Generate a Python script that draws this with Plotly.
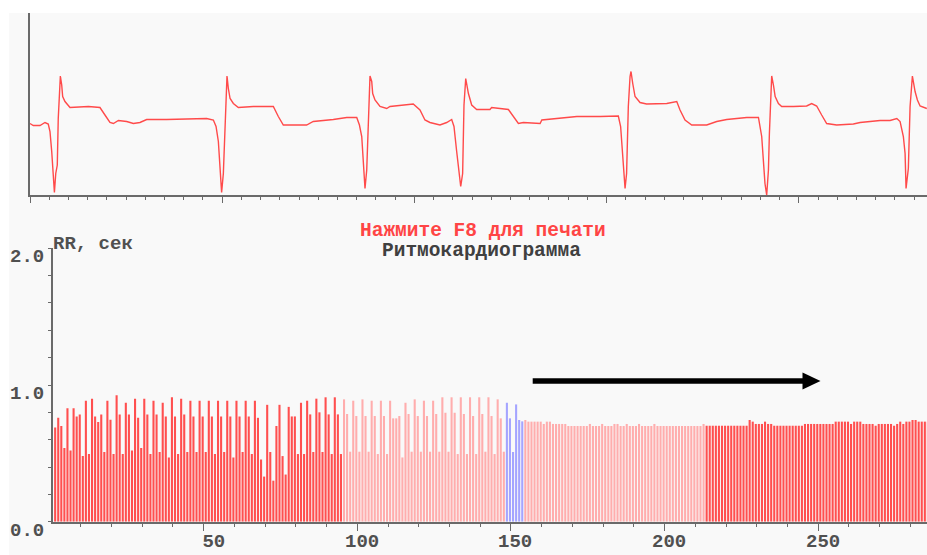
import plotly.graph_objects as go

W, H = 927, 555

# ---------------- ECG strip (time, s ; amplitude, mV) ----------------
ecg_t = [0.000, 0.017, 0.052, 0.078, 0.095, 0.104, 0.113, 0.121, 0.127, 0.134, 0.142, 0.147,
         0.153, 0.158, 0.165, 0.170, 0.182, 0.208, 0.304, 0.364, 0.390, 0.416, 0.434, 0.460,
         0.503, 0.538, 0.572, 0.607, 0.711, 0.919, 0.954, 0.968, 0.980, 0.989, 0.997, 1.006,
         1.015, 1.020, 1.025, 1.032, 1.041, 1.058, 1.084, 1.162, 1.266, 1.292, 1.318, 1.439,
         1.474, 1.578, 1.648, 1.700, 1.714, 1.726, 1.734, 1.743, 1.752, 1.759, 1.764, 1.769,
         1.778, 1.783, 1.795, 1.821, 1.856, 1.873, 1.994, 2.029, 2.055, 2.081, 2.133, 2.168,
         2.194, 2.206, 2.220, 2.234, 2.241, 2.251, 2.258, 2.267, 2.281, 2.298, 2.324, 2.393,
         2.402, 2.489, 2.524, 2.541, 2.567, 2.654, 2.663, 2.758, 2.845, 2.966, 3.061, 3.073,
         3.084, 3.091, 3.096, 3.104, 3.113, 3.122, 3.127, 3.136, 3.148, 3.174, 3.208, 3.313,
         3.365, 3.382, 3.408, 3.443, 3.521, 3.573, 3.625, 3.729, 3.790, 3.807, 3.816, 3.824,
         3.833, 3.842, 3.847, 3.854, 3.859, 3.868, 3.877, 3.894, 3.911, 3.972, 4.041, 4.067,
         4.093, 4.119, 4.145, 4.197, 4.284, 4.319, 4.423, 4.475, 4.510, 4.527, 4.544, 4.553,
         4.558, 4.570, 4.579, 4.591, 4.605, 4.617, 4.631, 4.666]
ecg_mv = [0.03, -0.01, -0.01, 0.05, 0.02, -0.13, -0.53, -0.97, -1.35, -0.97, -0.80, 0.13,
          0.80, 0.98, 0.80, 0.57, 0.47, 0.35, 0.37, 0.35, 0.20, 0.05, 0.03, 0.09,
          0.07, 0.03, 0.05, 0.11, 0.11, 0.13, 0.10, -0.03, -0.33, -0.87, -1.35, -0.97,
          -0.03, 0.80, 0.98, 0.73, 0.53, 0.43, 0.35, 0.37, 0.37, 0.17, 0.00, 0.00,
          0.07, 0.11, 0.15, 0.15, 0.00, -0.23, -0.73, -1.27, -0.90, -0.17, 0.63, 0.98,
          0.87, 0.63, 0.50, 0.37, 0.33, 0.37, 0.42, 0.30, 0.10, 0.05, 0.00, 0.05,
          0.11, -0.03, -0.53, -1.03, -1.23, -0.97, 0.40, 0.93, 0.63, 0.40, 0.31, 0.31,
          0.35, 0.31, 0.11, 0.03, 0.05, 0.03, 0.10, 0.13, 0.17, 0.17, 0.18, -0.03,
          -0.57, -0.97, -1.27, -0.97, 0.37, 0.97, 1.07, 0.83, 0.57, 0.45, 0.42, 0.43,
          0.47, 0.30, 0.10, 0.00, 0.00, 0.07, 0.11, 0.15, 0.15, -0.23, -0.77, -1.17,
          -1.40, -0.90, -0.17, 0.63, 0.98, 0.80, 0.57, 0.43, 0.37, 0.37, 0.38, 0.43,
          0.38, 0.20, 0.03, 0.00, 0.02, 0.05, 0.09, 0.09, 0.13, 0.07, -0.23, -0.57,
          -1.27, -0.87, 0.37, 0.98, 0.67, 0.50, 0.38, 0.33]

# ---------------- Rhythmogram: RR interval (s) per beat ----------------
rr_values = [
    # beats 1-94
    0.69, 0.76, 0.70, 0.54, 0.83, 0.52, 0.83, 0.77, 0.785, 0.48,
    0.885, 0.495, 0.90, 0.77, 0.73, 0.785, 0.51, 0.885, 0.745, 0.495,
    0.925, 0.785, 0.495, 0.87, 0.785, 0.52, 0.90, 0.76, 0.54, 0.90,
    0.785, 0.495, 0.885, 0.785, 0.51, 0.87, 0.77, 0.47, 0.91, 0.77,
    0.495, 0.90, 0.785, 0.51, 0.885, 0.77, 0.51, 0.885, 0.77, 0.51,
    0.885, 0.77, 0.495, 0.885, 0.77, 0.51, 0.885, 0.77, 0.47, 0.885,
    0.77, 0.51, 0.885, 0.77, 0.495, 0.885, 0.76, 0.455, 0.33, 0.855,
    0.51, 0.30, 0.70, 0.855, 0.48, 0.345, 0.84, 0.77, 0.77, 0.495,
    0.87, 0.495, 0.885, 0.785, 0.51, 0.90, 0.80, 0.51, 0.91, 0.785,
    0.495, 0.91, 0.785, 0.495,
    # beats 95-147
    0.895, 0.788, 0.512, 0.885, 0.773, 0.512, 0.895, 0.773, 0.512, 0.885,
    0.773, 0.495, 0.885, 0.773, 0.495, 0.885, 0.756, 0.756, 0.773, 0.47,
    0.87, 0.788, 0.512, 0.895, 0.773, 0.512, 0.885, 0.773, 0.512, 0.885,
    0.788, 0.512, 0.91, 0.797, 0.512, 0.91, 0.797, 0.495, 0.91, 0.788,
    0.495, 0.91, 0.773, 0.495, 0.91, 0.788, 0.512, 0.91, 0.773, 0.495,
    0.895, 0.756, 0.512,
    # beats 148-153
    0.87, 0.756, 0.51, 0.858, 0.744, 0.734,
    # beats 154-212
    0.744, 0.732, 0.732, 0.732, 0.732, 0.732, 0.715, 0.732, 0.732, 0.715,
    0.715, 0.715, 0.715, 0.715, 0.70, 0.70, 0.70, 0.70, 0.70, 0.70,
    0.70, 0.715, 0.70, 0.70, 0.70, 0.715, 0.70, 0.70, 0.70, 0.715,
    0.715, 0.70, 0.70, 0.715, 0.70, 0.70, 0.70, 0.715, 0.70, 0.70,
    0.70, 0.70, 0.715, 0.70, 0.70, 0.70, 0.70, 0.70, 0.70, 0.70,
    0.70, 0.70, 0.70, 0.70, 0.70, 0.70, 0.70, 0.70, 0.715,
    # beats 213-285
    0.702, 0.702, 0.702, 0.702, 0.702, 0.702, 0.702, 0.702, 0.702, 0.702,
    0.702, 0.702, 0.702, 0.702, 0.744, 0.732, 0.715, 0.715, 0.715, 0.732,
    0.715, 0.715, 0.702, 0.702, 0.702, 0.702, 0.702, 0.702, 0.702, 0.702,
    0.702, 0.702, 0.715, 0.715, 0.715, 0.715, 0.715, 0.715, 0.715, 0.715,
    0.715, 0.715, 0.732, 0.732, 0.732, 0.732, 0.732, 0.715, 0.732, 0.732,
    0.732, 0.715, 0.715, 0.715, 0.715, 0.702, 0.715, 0.715, 0.715, 0.715,
    0.715, 0.702, 0.715, 0.732, 0.715, 0.732, 0.732, 0.744, 0.744, 0.732,
    0.732, 0.732, 0.732,
]
beat_no = list(range(1, len(rr_values) + 1))

# segments of the record: (first beat, last beat, group)
seg_first = [1, 95, 148, 154, 213]
seg_last = [94, 147, 153, 212, 285]
seg_group = ["main", "marked", "selected", "marked", "main"]

x_tick_vals = [50, 100, 150, 200, 250]
x_tick_text = ["\u00a050", "100", "150", "200", "250"]
y_tick_vals = [0.0, 1.0, 2.0]
y_tick_text = ["0.0", "1.0", "2.0"]

hint_text = "Нажмите F8 для печати"
title_text = "Ритмокардиограмма"
y_title_text = "RR, сек"

# ---------------- styles ----------------
group_color = {"main": "#ff4f4f", "marked": "#ffadad", "selected": "#a4a4ff"}
AX = "#6a6a6a"
TXT = "#505050"
FONT = "Liberation Mono, DejaVu Sans Mono, monospace"


def px(x):
    return x / W


def py(y):
    return 1 - y / H


fig = go.Figure()

fig.add_trace(go.Scatter(x=ecg_t, y=ecg_mv, mode="lines",
                         line=dict(color="#ff4a4a", width=1.4),
                         xaxis="x", yaxis="y", hoverinfo="skip", showlegend=False))

for a, b, g in zip(seg_first, seg_last, seg_group):
    xs = beat_no[a - 1:b]
    ys = rr_values[a - 1:b]
    fig.add_trace(go.Bar(x=xs, y=ys, width=0.68, offset=0.34,
                         marker=dict(color=group_color[g], line=dict(width=0)),
                         xaxis="x2", yaxis="y2", hoverinfo="skip", showlegend=False))

common = dict(showgrid=False, zeroline=False, showline=True, linecolor=AX, linewidth=2,
              tickcolor=AX, tickwidth=1, showticklabels=False, fixedrange=True)

layout = dict(
    width=W, height=H, margin=dict(l=0, r=0, t=0, b=0),
    paper_bgcolor="white", plot_bgcolor="rgba(0,0,0,0)",
    template="none", showlegend=False, bargap=0.2,
    xaxis=dict(domain=[px(30), 1], range=[0, (W - 30) / 192.2], anchor="y",
               ticks="outside", ticklen=6, dtick=1, tick0=0,
               minor=dict(dtick=0.1, ticks="outside", ticklen=3, tickcolor=AX, showgrid=False),
               **common),
    yaxis=dict(domain=[py(195), py(13)], range=[-1.40, 2.24], anchor="x",
               ticks="", **common),
    xaxis2=dict(domain=[px(52.7), 1], range=[0.88, (W - 50) / 3.073], anchor="y2",
                ticks="outside", ticklen=7, dtick=50, tick0=0,
                minor=dict(dtick=10, ticks="outside", ticklen=3, tickcolor=AX, showgrid=False),
                **common),
    yaxis2=dict(domain=[py(521.7), py(248.3)], range=[0, 2], anchor="x2",
                ticks="outside", ticklen=3, dtick=0.2, tick0=0, **common),
)
fig.update_layout(**layout)

# background panel
fig.add_shape(type="rect", xref="paper", yref="paper", x0=px(9), x1=1, y0=0, y1=py(13),
              fillcolor="#f9f9f9", line=dict(width=0), layer="below")

lbl_font = dict(family=FONT, size=19, color=TXT, weight="bold")
CAP = 4

ann = []
for v, t in zip(y_tick_vals, y_tick_text):
    ann.append(dict(x=px(46), xref="paper", xanchor="right", y=v, yref="y2", yanchor="top",
                    yshift=CAP, text=t, showarrow=False, font=lbl_font))
for v, t in zip(x_tick_vals, x_tick_text):
    ann.append(dict(x=v, xref="x2", xanchor="center", xshift=4.5, y=py(533), yref="paper",
                    yanchor="top", yshift=CAP, text=t, showarrow=False, font=lbl_font))
ann.append(dict(x=px(51), xref="paper", xanchor="left", y=py(235), yref="paper", yanchor="top",
                yshift=CAP, text=y_title_text, showarrow=False, font=lbl_font))
ann.append(dict(x=px(483), xref="paper", xanchor="center", y=py(222.5), yref="paper",
                yanchor="top", yshift=CAP + 1, text=hint_text, showarrow=False,
                font=dict(family=FONT, size=19.5, color="#ff4545", weight="bold")))
ann.append(dict(x=px(481.5), xref="paper", xanchor="center", y=py(243), yref="paper",
                yanchor="top", yshift=CAP + 1, text=title_text, showarrow=False,
                font=dict(family=FONT, size=19.5, color="#404040", weight="bold")))
fig.update_layout(annotations=ann)

# direction arrow
fig.add_shape(type="line", xref="paper", yref="paper", x0=px(532.7), x1=px(806), y0=py(381), y1=py(381),
              line=dict(color="black", width=5.5))
fig.add_shape(type="path", xref="paper", yref="paper",
              path="M {:.5f},{:.5f} L {:.5f},{:.5f} L {:.5f},{:.5f} Z".format(
                  px(802.5), py(372.5), px(820.5), py(381), px(802.5), py(389.5)),
              fillcolor="black", line=dict(width=0))

fig.write_html("out.html")
